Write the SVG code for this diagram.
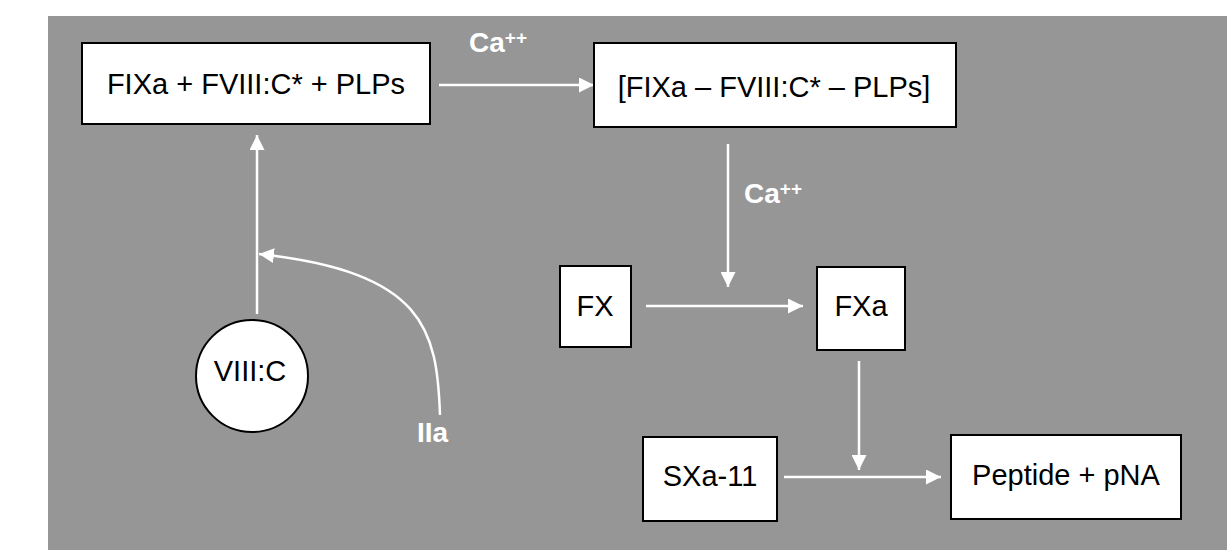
<svg xmlns="http://www.w3.org/2000/svg" width="1227" height="550" viewBox="0 0 1227 550">
<style>
.box{fill:#fff;stroke:#000;stroke-width:2}
.t{font-family:"Liberation Sans",Arial,sans-serif;font-size:29px;fill:#000;text-anchor:middle}
.lbl{font-family:"Liberation Sans",Arial,sans-serif;font-size:28px;font-weight:bold;fill:#fff}
.sup{font-size:19px}
.c{fill:none;stroke:#fff;stroke-width:2.5;marker-end:url(#ah)}
</style>
<defs>
<marker id="ah" markerUnits="userSpaceOnUse" markerWidth="15" markerHeight="15" refX="15" refY="7.5" orient="auto">
<path d="M0,0 L15,7.5 L0,15 z" fill="#fff"/>
</marker>
</defs>
<rect x="48" y="16" width="1179" height="534" fill="#969696"/>
<g id="connectors">
<line class="c" x1="439" y1="85" x2="594" y2="85"/>
<line class="c" x1="728" y1="144" x2="728" y2="287"/>
<line class="c" x1="646" y1="306" x2="803" y2="306"/>
<line class="c" x1="859" y1="361" x2="859" y2="470"/>
<line class="c" x1="784" y1="477" x2="941" y2="477"/>
<line class="c" x1="257" y1="314" x2="257" y2="135"/>
<path class="c" d="M440,415 C437,330 425,272 259,254"/>
</g>
<g id="labels">
<text class="lbl" x="469" y="52">Ca<tspan class="sup" dy="-8">++</tspan></text>
<text class="lbl" x="744" y="203">Ca<tspan class="sup" dy="-8">++</tspan></text>
<text class="lbl" x="417" y="442">IIa</text>
</g>
<g id="n1"><rect class="box" x="82" y="43" width="348" height="81"/><text class="t" x="256" y="94">FIXa + FVIII:C* + PLPs</text></g>
<g id="n2"><rect class="box" x="594" y="43" width="362" height="84"/><text class="t" x="774" y="97">[FIXa – FVIII:C* – PLPs]</text></g>
<g id="n3"><rect class="box" x="560" y="266" width="71" height="81"/><text class="t" x="595" y="316">FX</text></g>
<g id="n4"><rect class="box" x="817" y="267" width="88" height="83"/><text class="t" x="861" y="316">FXa</text></g>
<g id="n5"><rect class="box" x="643" y="437" width="134" height="84"/><text class="t" x="710" y="486">SXa-11</text></g>
<g id="n6"><rect class="box" x="951" y="435" width="230" height="84"/><text class="t" x="1066" y="485">Peptide + pNA</text></g>
<g id="n7"><circle class="box" cx="252" cy="376" r="56"/><text class="t" x="250" y="381">VIII:C</text></g>
</svg>
